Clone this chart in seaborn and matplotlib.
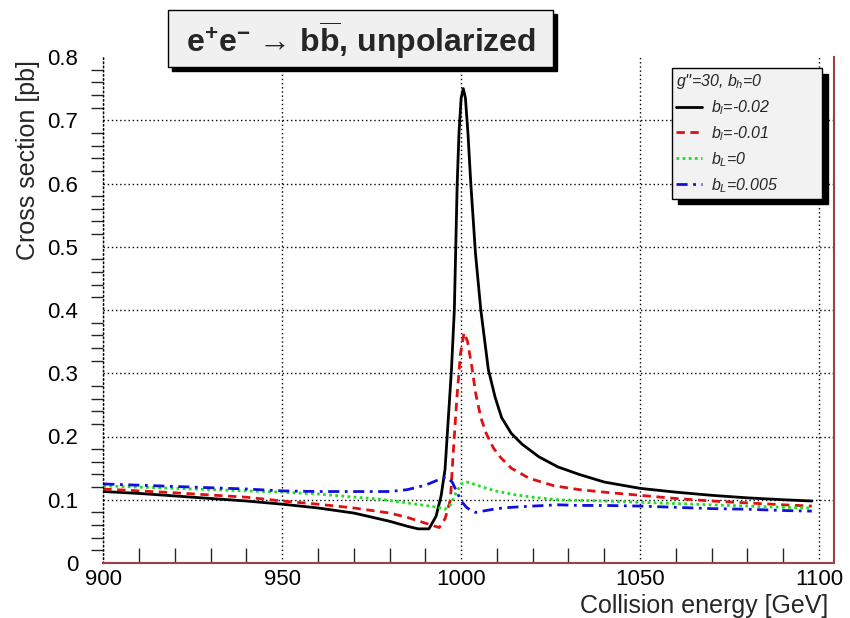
import matplotlib
matplotlib.use("Agg")
import matplotlib.pyplot as plt
import matplotlib.patches as mpatches
from matplotlib.ticker import MultipleLocator
import seaborn as sns
import pandas as pd

# ---- data ----
E_k = [900, 910, 920, 930, 940, 950, 960, 970, 980, 985, 988, 991, 993, 994.4, 995.5, 996.4,
       997.3, 998.1, 998.9, 999.4, 1000, 1000.6, 1001.2, 1001.9, 1002.7, 1004, 1005.5, 1007.6,
       1009.5, 1011.3, 1014, 1017, 1021.7, 1027, 1033, 1040, 1050, 1060, 1070, 1080, 1090, 1098]
v_k = [0.113, 0.110, 0.106, 0.102, 0.098, 0.093, 0.087, 0.079, 0.066, 0.058, 0.054, 0.054, 0.074,
       0.106, 0.148, 0.227, 0.306, 0.40, 0.60, 0.68, 0.735, 0.75, 0.735, 0.68, 0.60, 0.49, 0.40,
       0.306, 0.262, 0.23, 0.205, 0.188, 0.168, 0.152, 0.14, 0.128, 0.118, 0.112, 0.107, 0.103,
       0.100, 0.098]

E_r = [900, 920, 940, 950, 960, 970, 980, 985, 990, 993.9, 995.5, 997, 997.8, 998.8, 999.8, 1000.8,
       1001.8, 1003, 1004, 1005.5, 1007, 1009, 1011, 1014, 1019, 1026, 1033, 1040, 1050, 1060,
       1070, 1080, 1090, 1098]
v_r = [0.117, 0.111, 0.104, 0.098, 0.093, 0.087, 0.079, 0.072, 0.063, 0.056, 0.07, 0.10, 0.175,
       0.26, 0.33, 0.364, 0.35, 0.31, 0.27, 0.23, 0.205, 0.182, 0.167, 0.15, 0.134, 0.122, 0.116,
       0.112, 0.107, 0.102, 0.098, 0.095, 0.092, 0.09]

E_g = [900, 920, 940, 950, 960, 977, 985, 990, 993.6, 995.5, 997, 998.5, 1000, 1001.5, 1003, 1006,
       1009.5, 1015, 1020, 1027, 1033, 1040, 1050, 1060, 1070, 1080, 1090, 1098]
v_g = [0.122, 0.118, 0.114, 0.112, 0.109, 0.101, 0.095, 0.091, 0.088, 0.085, 0.092, 0.11, 0.125,
       0.128, 0.126, 0.12, 0.114, 0.108, 0.104, 0.1, 0.099, 0.098, 0.096, 0.094, 0.092, 0.09,
       0.088, 0.087]

E_b = [900, 920, 940, 950, 960, 970, 980, 985, 990, 993, 995.8, 997.5, 999, 1000, 1001.5, 1003,
       1004, 1006, 1010, 1014, 1020, 1027, 1033, 1040, 1050, 1060, 1070, 1080, 1090, 1098]
v_b = [0.125, 0.121, 0.117, 0.114, 0.113, 0.113, 0.113, 0.116, 0.123, 0.13, 0.136, 0.128, 0.11,
       0.098, 0.088, 0.082, 0.08, 0.082, 0.086, 0.088, 0.09, 0.092, 0.091, 0.091, 0.09, 0.088,
       0.086, 0.085, 0.083, 0.082]

series_labels = [r"$b_l$=-0.02", r"$b_l$=-0.01", r"$b_L$=0", r"$b_L$=0.005"]
legend_header = r"g''=30, $b_h$=0"
x_ticks = [900, 950, 1000, 1050, 1100]
y_ticks = [0, 0.1, 0.2, 0.3, 0.4, 0.5, 0.6, 0.7, 0.8]
y_tick_labels = ["0", "0.1", "0.2", "0.3", "0.4", "0.5", "0.6", "0.7", "0.8"]

# ---- style ----
sns.set_theme(style="white")
plt.rcParams["font.family"] = ["Liberation Sans", "DejaVu Sans"]
plt.rcParams["mathtext.fontset"] = "custom"
plt.rcParams["mathtext.rm"] = "Liberation Sans"
plt.rcParams["mathtext.it"] = "Liberation Sans:italic"
plt.rcParams["mathtext.bf"] = "Liberation Sans:bold"

fig = plt.figure(figsize=(8.5, 6.18), dpi=100)
ax = fig.add_axes([103.3 / 850, 1 - 563 / 618, (834 - 103.3) / 850, (563 - 57) / 618])

styles = [
    (E_k, v_k, "black", "-"),
    (E_r, v_r, "#e01010", (0, (3, 2))),
    (E_g, v_g, "#22dd22", (0, (1, 1.2))),
    (E_b, v_b, "#1010dd", (0, (4, 2, 1, 2))),
]
for (xs, ys, col, ls), lab in zip(styles, series_labels):
    df = pd.DataFrame({"E": xs, "sigma": ys})
    sns.lineplot(data=df, x="E", y="sigma", ax=ax, color=col, linestyle=ls,
                 linewidth=2.0, estimator=None, sort=False, label=lab)
handles, labels = ax.get_legend_handles_labels()

ax.set_xlim(900, 1104.2)
ax.set_ylim(0, 0.8)
ax.set_xticks(x_ticks)
ax.set_xticklabels([str(t) for t in x_ticks])
ax.set_yticks(y_ticks)
ax.set_yticklabels(y_tick_labels)
ax.xaxis.set_minor_locator(MultipleLocator(10))
ax.yaxis.set_minor_locator(MultipleLocator(0.02))

ax.grid(True, which="major", color="black", linestyle=(0, (1, 2)), linewidth=1.0)
ax.get_ygridlines()[-1].set_visible(False)
ax.tick_params(axis="x", which="major", direction="in", length=20, width=1, pad=4,
               labelsize=16, colors="black")
ax.tick_params(axis="x", which="minor", direction="in", length=11, width=1, bottom=True)
ax.tick_params(axis="y", which="major", direction="inout", length=22, width=1, pad=7,
               labelsize=16, colors="black")
ax.tick_params(axis="y", which="minor", direction="out", length=9, width=1, left=True)

ax.spines["top"].set_visible(False)
ax.spines["bottom"].set_color("#a04040")
ax.spines["right"].set_color("#a04040")
ax.spines["bottom"].set_linewidth(1.5)
ax.spines["right"].set_linewidth(1.5)
ax.spines["left"].set_color("black")
ax.spines["left"].set_linestyle((0, (1, 2)))
ax.spines["left"].set_linewidth(1.0)

ax.set_xlabel("Collision energy [GeV]", fontsize=18, loc="right")
ax.xaxis.set_label_coords((828 - 103.3) / 730.7, -0.062)
ax.set_ylabel("Cross section [pb]", fontsize=18, loc="top")
ax.yaxis.set_label_coords((40 - 103.3) / 730.7, 0.994)

leg = ax.legend(handles, labels, title=legend_header, loc="upper left",
                bbox_to_anchor=(672 / 850, 1 - 68 / 618, 150 / 850, 0.0),
                bbox_transform=fig.transFigure, mode="expand", borderaxespad=0,
                frameon=True, fancybox=False, framealpha=1, facecolor="#f2f2f2",
                edgecolor="black", fontsize=11.5, title_fontsize=11.5, handlelength=1.6,
                handletextpad=0.6, borderpad=0.25, labelspacing=0.45,
                shadow={"ox": 4, "oy": -4, "color": "black", "alpha": 1})
leg.get_frame().set_linewidth(1.0)
for t in leg.get_texts():
    t.set_fontstyle("italic")
leg.get_title().set_fontstyle("italic")
leg._legend_box.align = "left"

# ---- title box (ROOT-style pave with shadow) ----
bx0, bx1, by0, by1 = 168 / 850, 553 / 850, 1 - 67 / 618, 1 - 10 / 618
sh = 4
fig.patches.append(mpatches.Rectangle((bx0 + sh / 850, by0 - sh / 618), bx1 - bx0, by1 - by0,
                                      transform=fig.transFigure, facecolor="black",
                                      edgecolor="black", zorder=1))
fig.patches.append(mpatches.Rectangle((bx0, by0), bx1 - bx0, by1 - by0,
                                      transform=fig.transFigure, facecolor="#f0f0f0",
                                      edgecolor="black", linewidth=1, zorder=2))
fig.text((bx0 + bx1) / 2, (by0 + by1) / 2 - 0.003,
         r"e$^{\mathbf{+}}$e$^{\mathbf{-}}$ → b$\mathbf{\overline{b}}$, unpolarized",
         ha="center", va="center", fontsize=23, fontweight="bold", zorder=3)

fig.savefig("out.png", dpi=100)
